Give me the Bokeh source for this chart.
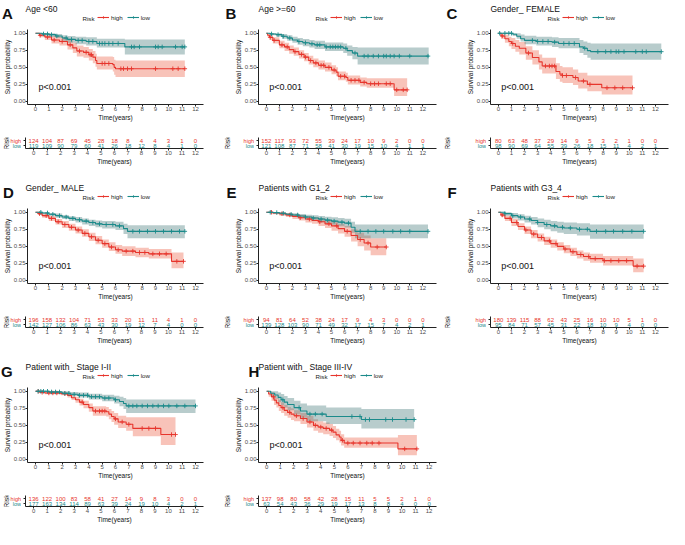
import numpy as np
from bokeh.plotting import figure
from bokeh.models import (Range1d, FixedTicker, Label, Legend, LegendItem,
                          NumeralTickFormatter)
from bokeh.layouts import row, column
from bokeh.embed import file_html
from bokeh.resources import INLINE
from bokeh.core.properties import value

FONT = "Liberation Sans"
RED = "#E7352C"
TEAL = "#1B8A8A"
RED_FILL = "#EE6A50"
TEAL_FILL = "#4D8080"

risk_times = list(range(13))
time_ticks = list(range(13))
surv_ticks = [0, 0.25, 0.5, 0.75, 1.0]

A_title = "Age <60"
A_high_t = [0, 0.3, 0.7, 1.2, 1.8, 2.4, 2.8, 3.1, 3.6, 4.0, 4.3, 4.5, 4.6, 5.8, 5.9, 6.0]
A_high_s = [1, 0.97, 0.945, 0.90, 0.88, 0.83, 0.785, 0.74, 0.72, 0.685, 0.65, 0.60, 0.557, 0.54, 0.50, 0.48]
A_high_hi = [1, 1.0, 0.99, 0.96, 0.94, 0.90, 0.86, 0.82, 0.80, 0.77, 0.74, 0.70, 0.66, 0.65, 0.61, 0.60]
A_high_lo = [1, 0.94, 0.90, 0.85, 0.82, 0.76, 0.71, 0.66, 0.64, 0.60, 0.56, 0.51, 0.47, 0.44, 0.39, 0.36]
A_high_end = 11.2
A_high_cens = [0.35, 0.9, 1.4, 2.0, 2.6, 3.3, 3.8, 4.1, 4.2, 5.0, 5.2, 5.5, 6.4, 6.6, 6.9, 7.2, 9.0, 10.3, 10.7, 11.2]
A_low_t = [0, 0.5, 1.0, 1.5, 2.0, 2.4, 3.0, 3.8, 4.6, 6.7]
A_low_s = [1, 0.99, 0.98, 0.96, 0.93, 0.91, 0.895, 0.88, 0.85, 0.80]
A_low_hi = [1, 1, 1, 0.99, 0.97, 0.96, 0.95, 0.94, 0.92, 0.91]
A_low_lo = [1, 0.97, 0.95, 0.93, 0.89, 0.86, 0.84, 0.82, 0.79, 0.69]
A_low_end = 11.2
A_low_cens = [0.6, 0.9, 1.2, 1.6, 2.3, 2.7, 3.2, 3.5, 4.0, 4.3, 4.8, 5.0, 5.2, 5.5, 5.8, 6.2, 7.2, 7.4, 7.8, 9.0, 9.2, 9.5, 10.5, 11.0, 11.2]
A_risk_high = [124, 104, 87, 69, 45, 28, 18, 8, 4, 4, 3, 1, 0]
A_risk_low = [119, 109, 90, 79, 60, 41, 26, 18, 12, 8, 4, 1, 0]

B_title = "Age >=60"
B_high_t = [0, 0.1, 0.25, 0.5, 1.0, 1.4, 1.75, 2.1, 2.5, 2.9, 3.25, 3.6, 4.0, 4.5, 5.0, 5.35, 5.5, 6.1, 6.25, 7.2, 7.7, 9.8]
B_high_s = [1, 0.97, 0.94, 0.895, 0.83, 0.80, 0.76, 0.73, 0.69, 0.65, 0.60, 0.565, 0.53, 0.50, 0.46, 0.43, 0.37, 0.35, 0.31, 0.28, 0.26, 0.17]
B_high_hi = [1, 1.0, 0.98, 0.94, 0.89, 0.86, 0.82, 0.79, 0.75, 0.71, 0.67, 0.63, 0.60, 0.57, 0.53, 0.50, 0.44, 0.42, 0.38, 0.35, 0.34, 0.34]
B_high_lo = [1, 0.94, 0.90, 0.85, 0.78, 0.74, 0.70, 0.67, 0.63, 0.59, 0.54, 0.50, 0.47, 0.44, 0.40, 0.37, 0.31, 0.29, 0.25, 0.22, 0.20, 0.08]
B_high_end = 10.8
B_high_cens = [0.3, 0.6, 1.2, 1.6, 2.2, 2.7, 3.0, 3.4, 3.8, 4.2, 4.4, 4.8, 5.2, 5.7, 6.0, 6.5, 6.8, 7.1, 7.5, 8.0, 8.3, 8.6, 9.2, 9.5, 10.0, 10.5, 10.8]
B_low_t = [0, 0.3, 0.75, 1.2, 1.6, 2.0, 2.4, 2.8, 3.3, 3.7, 4.5, 5.9, 6.2, 6.6, 7.0]
B_low_s = [1, 0.99, 0.98, 0.955, 0.93, 0.90, 0.88, 0.86, 0.845, 0.83, 0.80, 0.78, 0.745, 0.71, 0.665]
B_low_hi = [1, 1, 1, 0.99, 0.97, 0.95, 0.93, 0.915, 0.90, 0.89, 0.865, 0.85, 0.82, 0.80, 0.79]
B_low_lo = [1, 0.97, 0.95, 0.92, 0.89, 0.86, 0.83, 0.81, 0.79, 0.77, 0.74, 0.71, 0.67, 0.62, 0.54]
B_low_end = 12.45
B_low_cens = [0.4, 0.9, 1.3, 1.8, 2.5, 3.0, 3.5, 3.9, 4.1, 4.6, 4.9, 5.1, 5.3, 5.5, 5.7, 6.1, 6.8, 7.5, 7.8, 8.2, 8.6, 9.0, 9.2, 9.5, 9.8, 10.2, 11.0, 12.4]
B_risk_high = [152, 117, 93, 72, 55, 39, 24, 17, 10, 9, 2, 0, 0]
B_risk_low = [121, 108, 87, 71, 58, 41, 30, 19, 15, 10, 4, 1, 1]

C_title = "Gender_ FEMALE"
C_high_t = [0, 0.2, 0.5, 0.8, 1.0, 1.3, 1.6, 2.1, 2.6, 3.1, 3.35, 4.4, 4.7, 4.9, 5.7, 6.1, 6.8, 7.9]
C_high_s = [1, 0.96, 0.92, 0.88, 0.85, 0.81, 0.78, 0.71, 0.645, 0.58, 0.52, 0.44, 0.40, 0.38, 0.35, 0.30, 0.25, 0.20]
C_high_hi = [1, 1.0, 0.98, 0.95, 0.93, 0.90, 0.87, 0.81, 0.75, 0.69, 0.64, 0.56, 0.52, 0.50, 0.47, 0.42, 0.38, 0.38]
C_high_lo = [1, 0.92, 0.86, 0.81, 0.77, 0.73, 0.69, 0.61, 0.54, 0.47, 0.41, 0.33, 0.29, 0.27, 0.24, 0.19, 0.15, 0.10]
C_high_end = 10.25
C_high_cens = [0.3, 1.1, 2.3, 3.6, 3.9, 4.1, 4.3, 4.9, 5.2, 5.9, 6.5, 7.0, 8.3, 8.9, 9.5, 10.25]
C_low_t = [0, 1.1, 1.4, 1.7, 2.0, 2.9, 4.1, 4.6, 6.2, 6.5, 6.8, 7.05]
C_low_s = [1, 0.985, 0.955, 0.92, 0.895, 0.88, 0.87, 0.85, 0.80, 0.78, 0.745, 0.73]
C_low_hi = [1, 1, 1, 0.98, 0.965, 0.95, 0.94, 0.93, 0.90, 0.88, 0.86, 0.85]
C_low_lo = [1, 0.96, 0.92, 0.88, 0.84, 0.82, 0.80, 0.78, 0.71, 0.68, 0.64, 0.61]
C_low_end = 12.45
C_low_cens = [0.1, 0.5, 0.8, 1.0, 2.6, 3.0, 3.4, 3.8, 4.3, 5.0, 5.4, 5.8, 6.6, 7.6, 8.2, 8.6, 9.0, 9.2, 9.6, 10.5, 11.0, 11.3, 12.45]
C_risk_high = [80, 63, 48, 37, 29, 14, 9, 5, 3, 2, 1, 0, 0]
C_risk_low = [98, 90, 69, 64, 55, 39, 26, 18, 15, 11, 4, 2, 1]

D_title = "Gender_ MALE"
D_high_t = [0, 0.2, 0.5, 1.0, 1.5, 2.0, 2.5, 3.0, 3.5, 4.0, 4.5, 5.0, 5.5, 6.0, 6.5, 7.5, 8.5, 10.2]
D_high_s = [1, 0.98, 0.95, 0.91, 0.86, 0.82, 0.78, 0.74, 0.69, 0.64, 0.59, 0.54, 0.49, 0.45, 0.43, 0.41, 0.39, 0.28]
D_high_hi = [1, 1, 0.98, 0.95, 0.90, 0.87, 0.83, 0.79, 0.75, 0.70, 0.65, 0.60, 0.56, 0.52, 0.50, 0.48, 0.46, 0.41]
D_high_lo = [1, 0.96, 0.92, 0.87, 0.82, 0.77, 0.73, 0.69, 0.64, 0.58, 0.53, 0.48, 0.43, 0.39, 0.36, 0.34, 0.32, 0.18]
D_high_end = 11.1
D_high_cens = [0.3, 0.8, 1.2, 1.7, 2.2, 2.7, 3.2, 3.7, 4.2, 4.7, 5.2, 5.7, 6.2, 6.8, 7.3, 7.8, 8.2, 8.8, 9.3, 9.8, 10.6, 11.1]
D_low_t = [0, 0.5, 1.0, 1.5, 2.0, 2.5, 3.0, 3.5, 4.0, 4.5, 5.0, 6.0, 6.6, 6.9]
D_low_s = [1, 0.99, 0.97, 0.95, 0.93, 0.91, 0.89, 0.87, 0.85, 0.83, 0.82, 0.80, 0.76, 0.72]
D_low_hi = [1, 1, 0.99, 0.98, 0.96, 0.94, 0.93, 0.91, 0.89, 0.88, 0.87, 0.86, 0.83, 0.81]
D_low_lo = [1, 0.97, 0.95, 0.92, 0.90, 0.87, 0.85, 0.82, 0.80, 0.78, 0.76, 0.74, 0.68, 0.62]
D_low_end = 11.2
D_low_cens = [0.4, 0.9, 1.3, 1.8, 2.3, 2.8, 3.3, 3.8, 4.3, 4.8, 5.3, 5.8, 6.3, 7.3, 7.8, 8.4, 9.0, 9.6, 10.2, 10.8, 11.2]
D_risk_high = [196, 158, 132, 104, 71, 53, 33, 20, 11, 11, 4, 1, 0]
D_risk_low = [142, 127, 106, 86, 63, 43, 30, 19, 12, 7, 4, 0, 0]

E_title = "Patients with G1_2"
E_high_t = [0, 0.5, 1.0, 1.5, 2.0, 2.5, 3.0, 3.5, 4.0, 4.5, 5.0, 5.5, 6.0, 6.5, 7.0, 7.5, 8.0]
E_high_s = [1, 0.99, 0.98, 0.96, 0.94, 0.92, 0.90, 0.88, 0.86, 0.83, 0.80, 0.76, 0.72, 0.66, 0.60, 0.55, 0.49]
E_high_hi = [1, 1, 1, 0.99, 0.97, 0.96, 0.94, 0.93, 0.91, 0.89, 0.87, 0.83, 0.80, 0.75, 0.70, 0.66, 0.62]
E_high_lo = [1, 0.97, 0.95, 0.93, 0.90, 0.88, 0.85, 0.83, 0.80, 0.77, 0.73, 0.69, 0.64, 0.57, 0.50, 0.44, 0.37]
E_high_end = 9.2
E_high_cens = [0.4, 1.2, 1.8, 2.6, 3.3, 4.1, 4.8, 5.4, 6.2, 7.2, 7.8, 8.5, 9.2]
E_low_t = [0, 0.5, 1.0, 1.5, 2.0, 2.5, 3.0, 3.5, 4.0, 4.5, 5.0, 5.5, 6.0, 6.5, 6.8]
E_low_s = [1, 0.995, 0.985, 0.97, 0.96, 0.945, 0.93, 0.915, 0.90, 0.885, 0.87, 0.855, 0.84, 0.78, 0.72]
E_low_hi = [1, 1, 1, 0.99, 0.985, 0.975, 0.965, 0.955, 0.945, 0.935, 0.925, 0.915, 0.905, 0.86, 0.82]
E_low_lo = [1, 0.98, 0.965, 0.95, 0.935, 0.915, 0.895, 0.875, 0.855, 0.835, 0.815, 0.795, 0.775, 0.70, 0.62]
E_low_end = 12.4
E_low_cens = [0.3, 0.8, 1.3, 1.9, 2.4, 3.0, 3.6, 4.2, 4.7, 5.2, 5.8, 6.3, 7.2, 7.8, 8.4, 9.0, 9.7, 10.3, 11.0, 12.4]
E_risk_high = [94, 81, 64, 52, 38, 24, 17, 9, 4, 3, 0, 0, 0]
E_risk_low = [139, 128, 103, 90, 71, 49, 32, 17, 15, 7, 4, 2, 1]

F_title = "Patients with G3_4"
F_high_t = [0, 0.2, 0.5, 1.0, 1.5, 2.0, 2.5, 3.0, 3.5, 4.0, 4.5, 5.0, 5.5, 6.0, 6.5, 7.0, 8.0, 10.3]
F_high_s = [1, 0.96, 0.91, 0.85, 0.79, 0.74, 0.68, 0.63, 0.58, 0.54, 0.50, 0.46, 0.42, 0.38, 0.35, 0.32, 0.29, 0.21]
F_high_hi = [1, 0.99, 0.95, 0.90, 0.84, 0.79, 0.74, 0.69, 0.64, 0.60, 0.56, 0.52, 0.48, 0.44, 0.41, 0.39, 0.36, 0.32]
F_high_lo = [1, 0.93, 0.87, 0.80, 0.74, 0.68, 0.62, 0.57, 0.52, 0.48, 0.44, 0.40, 0.36, 0.32, 0.29, 0.26, 0.22, 0.12]
F_high_end = 11.1
F_high_cens = [0.3, 0.9, 1.4, 2.1, 2.7, 3.3, 3.9, 4.4, 5.1, 5.7, 6.3, 6.9, 7.4, 8.1, 8.6, 9.2, 9.8, 10.6, 11.1]
F_low_t = [0, 0.5, 1.0, 1.5, 2.0, 2.5, 3.0, 3.5, 4.0, 4.5, 5.0, 6.0, 7.0]
F_low_s = [1, 0.98, 0.95, 0.93, 0.90, 0.88, 0.85, 0.82, 0.80, 0.78, 0.77, 0.75, 0.72]
F_low_hi = [1, 1, 0.99, 0.97, 0.95, 0.93, 0.91, 0.89, 0.87, 0.86, 0.85, 0.84, 0.82]
F_low_lo = [1, 0.95, 0.91, 0.88, 0.85, 0.82, 0.78, 0.75, 0.72, 0.70, 0.68, 0.66, 0.61]
F_low_end = 11.1
F_low_cens = [0.5, 1.1, 1.7, 2.4, 3.0, 3.7, 4.3, 4.9, 5.5, 6.2, 6.8, 7.5, 8.2, 8.8, 9.5, 10.2, 11.1]
F_risk_high = [180, 139, 115, 88, 62, 43, 25, 16, 10, 10, 5, 1, 0]
F_risk_low = [95, 84, 71, 57, 45, 31, 22, 18, 10, 9, 4, 0, 0]

G_title = "Patient with_ Stage I-II"
G_high_t = [0, 0.3, 0.7, 1.9, 2.4, 2.7, 3.0, 3.3, 3.6, 4.0, 4.3, 5.3, 5.5, 5.7, 5.9, 6.2, 6.8, 7.3, 9.4]
G_high_s = [1, 0.985, 0.975, 0.965, 0.94, 0.905, 0.875, 0.84, 0.805, 0.76, 0.71, 0.70, 0.665, 0.63, 0.595, 0.55, 0.515, 0.455, 0.365]
G_high_hi = [1, 1, 1, 0.99, 0.97, 0.94, 0.92, 0.89, 0.86, 0.82, 0.78, 0.77, 0.74, 0.71, 0.68, 0.64, 0.62, 0.62, 0.62]
G_high_lo = [1, 0.97, 0.955, 0.94, 0.91, 0.87, 0.83, 0.79, 0.75, 0.70, 0.64, 0.63, 0.59, 0.55, 0.51, 0.46, 0.42, 0.34, 0.21]
G_high_end = 10.5
G_high_cens = [0.2, 0.5, 1.0, 1.3, 1.6, 2.2, 3.5, 4.5, 4.8, 5.0, 5.2, 6.0, 6.5, 7.0, 8.0, 8.5, 9.0, 10.2, 10.5]
G_low_t = [0, 1.0, 2.0, 2.6, 3.2, 4.0, 5.0, 5.9, 6.3, 6.6, 6.8]
G_low_s = [1, 0.99, 0.97, 0.955, 0.94, 0.92, 0.90, 0.875, 0.85, 0.82, 0.785]
G_low_hi = [1, 1, 1, 0.99, 0.98, 0.965, 0.95, 0.935, 0.92, 0.90, 0.88]
G_low_lo = [1, 0.975, 0.95, 0.93, 0.91, 0.88, 0.855, 0.82, 0.78, 0.74, 0.68]
G_low_end = 12.0
G_low_cens = [0.2, 0.4, 0.6, 0.9, 1.2, 1.5, 1.8, 2.2, 2.5, 2.9, 3.3, 3.6, 3.9, 4.2, 4.5, 4.8, 5.2, 5.5, 6.0, 7.0, 7.3, 7.6, 8.0, 8.4, 8.8, 9.2, 9.6, 10.0, 10.6, 11.2, 12.0]
G_risk_high = [136, 122, 100, 83, 58, 41, 27, 14, 9, 8, 3, 0, 0]
G_risk_low = [177, 163, 134, 114, 89, 63, 39, 24, 19, 10, 4, 2, 1]

H_title = "Patient with_ Stage III-IV"
H_high_t = [0, 0.15, 0.36, 0.55, 0.72, 0.9, 1.07, 1.3, 1.55, 1.8, 2.03, 2.5, 2.98, 3.46, 3.8, 4.18, 4.65, 4.9, 5.13, 5.37, 5.5, 5.73, 9.7]
H_high_s = [1, 0.96, 0.92, 0.87, 0.83, 0.79, 0.76, 0.72, 0.69, 0.665, 0.64, 0.60, 0.55, 0.50, 0.475, 0.455, 0.43, 0.40, 0.36, 0.33, 0.28, 0.24, 0.155]
H_high_hi = [1, 1, 0.98, 0.94, 0.90, 0.87, 0.84, 0.80, 0.77, 0.75, 0.72, 0.68, 0.64, 0.59, 0.56, 0.54, 0.52, 0.49, 0.45, 0.42, 0.37, 0.32, 0.36]
H_high_lo = [1, 0.92, 0.86, 0.80, 0.76, 0.71, 0.68, 0.64, 0.61, 0.58, 0.56, 0.52, 0.47, 0.42, 0.39, 0.37, 0.345, 0.315, 0.28, 0.25, 0.205, 0.17, 0.06]
H_high_end = 11.1
H_high_cens = [0.5, 1.2, 1.7, 2.2, 2.7, 3.2, 3.6, 4.0, 4.4, 4.8, 5.6, 6.0, 6.4, 6.9, 7.4, 7.8, 8.3, 10.2, 11.1]
H_low_t = [0, 0.3, 0.6, 0.85, 1.07, 1.3, 1.55, 2.03, 2.5, 2.98, 4.4, 7.0]
H_low_s = [1, 0.97, 0.945, 0.91, 0.875, 0.84, 0.805, 0.76, 0.71, 0.665, 0.63, 0.585]
H_low_hi = [1, 1, 1, 0.98, 0.96, 0.93, 0.90, 0.86, 0.82, 0.79, 0.76, 0.74]
H_low_lo = [1, 0.93, 0.89, 0.84, 0.80, 0.76, 0.72, 0.66, 0.61, 0.56, 0.52, 0.455]
H_low_end = 10.9
H_low_cens = [1.2, 2.4, 3.2, 3.6, 4.1, 6.3, 6.9, 7.3, 7.6, 8.8, 9.3, 10.3, 10.9]
H_risk_high = [137, 98, 80, 58, 42, 28, 15, 11, 5, 5, 2, 1, 0]
H_risk_low = [63, 54, 43, 36, 29, 19, 17, 13, 8, 8, 4, 0, 0]

pvalue_text = "p<0.001"

G = globals()
panels = []
for key in "ABCDEFGH":
    panels.append(dict(
        letter=key, title=G[key + "_title"],
        high=(G[key + "_high_t"], G[key + "_high_s"], G[key + "_high_lo"], G[key + "_high_hi"],
              G[key + "_high_end"], G[key + "_high_cens"]),
        low=(G[key + "_low_t"], G[key + "_low_s"], G[key + "_low_lo"], G[key + "_low_hi"],
             G[key + "_low_end"], G[key + "_low_cens"]),
        risk_high=G[key + "_risk_high"], risk_low=G[key + "_risk_low"]))

FRAME_W = 178
HEAD_H = 29
KM_H, KM_BOT = 96, 21
RISK_H, RISK_TOP, RISK_BOT = 44, 12, 21
ROW_GAP = 10
RISK_LB = 4
COLS = [dict(lb=25, rb=18), dict(lb=37, rb=5), dict(lb=49, rb=1)]
XMAX = dict(A=12.6, B=13.05, C=13.0, D=12.6, E=13.05, F=13.0, G=12.6, H=12.55)
LETTER_DX = dict(A=-23.5, B=-33, C=-44, D=-22.5, E=-32, F=-43, G=-24.5, H=-10)
AXIS_COL = "#222222"


def style_axis(ax, label):
    ax.axis_line_color = AXIS_COL
    ax.axis_line_width = 1
    ax.major_tick_line_color = AXIS_COL
    ax.major_tick_out = 2
    ax.major_tick_in = 0
    ax.minor_tick_line_color = None
    ax.major_label_text_font = FONT
    ax.major_label_text_font_size = "6px"
    ax.major_label_text_color = "#4D4D4D"
    ax.major_label_standoff = 0
    ax.axis_label = label
    ax.axis_label_text_font = FONT
    ax.axis_label_text_font_size = "6.5px"
    ax.axis_label_text_font_style = "normal"
    ax.axis_label_text_color = "#111111"
    ax.axis_label_standoff = 0


def plain(p):
    p.xgrid.visible = False
    p.ygrid.visible = False
    p.outline_line_color = None
    p.background_fill_color = "white"
    p.border_fill_color = "white"
    p.frame_align = False
    return p


def header_panel(pn, col):
    lb, rb = col["lb"], col["rb"]
    w = lb + FRAME_W + rb
    h = figure(width=w, height=HEAD_H, x_range=Range1d(0, w), y_range=Range1d(HEAD_H, 0),
               x_axis_type=None, y_axis_type=None, output_backend="svg", toolbar_location=None,
               min_border=0, min_border_left=0, min_border_right=0, min_border_top=0,
               min_border_bottom=0)
    plain(h)
    h.text(x=[lb + LETTER_DX[pn["letter"]]], y=[12.7], text=[pn["letter"]], text_font=value(FONT),
           text_font_size="15px", text_font_style="bold", text_color="#111111",
           text_baseline="alphabetic")
    h.text(x=[lb], y=[8.4], text=[pn["title"]], text_font=value(FONT), text_font_size="8.5px",
           text_color="#111111", text_baseline="alphabetic")
    h.text(x=[lb + 57], y=[17.5], text=["Risk"], text_font=value(FONT), text_font_size="6.2px",
           text_color="#222222", text_baseline="middle")
    items = []
    for name, colr in (("high", RED), ("low", TEAL)):
        ln = h.line(x=[-50, -40], y=[-50, -50], line_color=colr, line_width=1.1)
        sc = h.scatter(x=[-45], y=[-50], marker="cross", size=4.5, line_color=colr, line_width=0.9)
        items.append(LegendItem(label=name, renderers=[ln, sc]))
    legend = Legend(items=items, location=(lb + 72, HEAD_H - 17.5 - 3), orientation="horizontal",
                    glyph_width=12, glyph_height=6, label_height=6, label_width=8, label_standoff=2,
                    spacing=4, padding=0, margin=0,
                    label_text_font=FONT, label_text_font_size="6.2px",
                    label_text_color="#222222", label_text_baseline="middle",
                    border_line_alpha=0, background_fill_alpha=0)
    h.add_layout(legend)
    return h


def km_panel(pn, col):
    lb, rb = col["lb"], col["rb"]
    w = lb + FRAME_W + rb
    p = figure(width=w, height=KM_H, x_range=Range1d(-0.6, XMAX[pn["letter"]]),
               y_range=Range1d(-0.045, 1.055), output_backend="svg", toolbar_location=None,
               min_border_left=lb, min_border_right=rb, min_border_top=0, min_border_bottom=KM_BOT)
    plain(p)
    for name, fill in (("high", RED_FILL), ("low", TEAL_FILL)):
        t, s, lo, hi, end, cens = pn[name]
        x = list(t) + [end]
        p.varea_step(x=x, y1=list(lo) + [lo[-1]], y2=list(hi) + [hi[-1]],
                     step_mode="after", fill_color=fill, fill_alpha=0.4)
    for name, colr in (("high", RED), ("low", TEAL)):
        t, s, lo, hi, end, cens = pn[name]
        x = list(t) + [end]
        y = list(s) + [s[-1]]
        p.step(x=x, y=y, mode="after", line_color=colr, line_width=1.1)
        idx = np.searchsorted(np.array(t), np.array(cens), side="right") - 1
        cy = [s[i] for i in idx]
        p.scatter(x=cens, y=cy, marker="cross", size=4.5, line_color=colr, line_width=0.9)
    p.xaxis.ticker = FixedTicker(ticks=time_ticks)
    p.yaxis.ticker = FixedTicker(ticks=surv_ticks)
    p.yaxis.formatter = NumeralTickFormatter(format="0.00")
    style_axis(p.xaxis[0], "Time(years)")
    style_axis(p.yaxis[0], "Survival probability")
    p.add_layout(Label(x=0.22, y=0.21, text=pvalue_text, text_font=FONT, text_font_size="9px",
                       text_color="#111111", text_baseline="middle"))
    return p


def risk_panel(pn, col, last_row):
    lb, rb = col["lb"], col["rb"]
    extra = 0 if last_row else ROW_GAP
    yr = Range1d(0.4, 2.6)
    sw = lb - RISK_LB
    s = figure(width=sw, height=RISK_H + extra, x_range=Range1d(0, sw), y_range=yr,
               x_axis_type=None, y_axis_type=None, output_backend="svg", toolbar_location=None,
               min_border=0, min_border_left=0, min_border_right=0, min_border_top=RISK_TOP,
               min_border_bottom=RISK_BOT + extra)
    plain(s)
    s.text(x=[sw - 0.5, sw - 0.5], y=[2, 1], text=["high", "low"], text_color=[RED, TEAL],
           text_font=value(FONT), text_font_size="5.5px", text_align="right", text_baseline="middle")
    s.text(x=[5.5], y=[1.5], text=["Risk"], text_font=value(FONT), text_font_size="7px",
           text_color="#111111", angle=np.pi / 2, text_align="center", text_baseline="middle")
    w = RISK_LB + FRAME_W + rb
    r = figure(width=w, height=RISK_H + extra, x_range=Range1d(-0.6, XMAX[pn["letter"]]), y_range=yr,
               output_backend="svg", toolbar_location=None,
               min_border_left=RISK_LB, min_border_right=rb, min_border_top=RISK_TOP,
               min_border_bottom=RISK_BOT + extra)
    plain(r)
    r.text(x=risk_times, y=[2] * len(risk_times), text=[str(v) for v in pn["risk_high"]],
           text_color=RED, text_font=value(FONT), text_font_size="6px",
           text_align="center", text_baseline="middle")
    r.text(x=risk_times, y=[1] * len(risk_times), text=[str(v) for v in pn["risk_low"]],
           text_color=TEAL, text_font=value(FONT), text_font_size="6px",
           text_align="center", text_baseline="middle")
    r.xaxis.ticker = FixedTicker(ticks=time_ticks)
    r.yaxis.ticker = FixedTicker(ticks=[1, 2])
    style_axis(r.xaxis[0], "Time(years)")
    style_axis(r.yaxis[0], None)
    r.yaxis.major_label_text_font_size = "0px"
    r.yaxis.major_label_text_alpha = 0
    return row(s, r)


rows = []
for ri, group in enumerate([panels[0:3], panels[3:6], panels[6:8]]):
    last = ri == 2
    cells = []
    for ci, pn in enumerate(group):
        col = COLS[ci]
        cells.append(column(header_panel(pn, col), km_panel(pn, col), risk_panel(pn, col, last)))
    rows.append(row(*cells))

layout = column(*rows)
open("out.html", "w").write(file_html(layout, INLINE))
